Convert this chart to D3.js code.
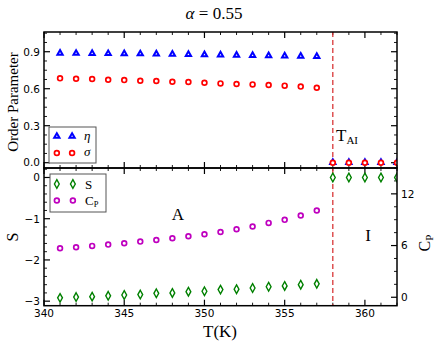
<!DOCTYPE html>
<html>
<head>
<meta charset="utf-8">
<script src="https://cdn.jsdelivr.net/npm/d3@7"></script>
<style>
  body { margin: 0; background: #fff; }
  text { fill: #000; }
</style>
</head>
<body>
<div id="chart"></div>
<script>
// temperatures
var tLow = [341, 342, 343, 344, 345, 346, 347, 348, 349, 350, 351, 352, 353, 354, 355, 356, 357];
var tHigh = [358, 359, 360, 361, 362];

// order parameters
var eta = [0.886, 0.885, 0.884, 0.883, 0.882, 0.881, 0.880, 0.878, 0.876, 0.874, 0.872, 0.870, 0.868, 0.866, 0.864, 0.862, 0.860];
var sigma = [0.684, 0.681, 0.679, 0.673, 0.670, 0.665, 0.662, 0.657, 0.654, 0.649, 0.643, 0.638, 0.635, 0.630, 0.625, 0.617, 0.608];
var etaHigh = [0, 0, 0, 0, 0];
var sigmaHigh = [0, 0, 0, 0, 0];

// entropy and heat capacity
var S = [-2.92, -2.90, -2.89, -2.87, -2.85, -2.84, -2.81, -2.80, -2.77, -2.76, -2.72, -2.71, -2.68, -2.65, -2.63, -2.60, -2.58];
var SHigh = [0, 0, 0, 0, 0];
var Cp = [5.69, 5.80, 5.96, 6.11, 6.27, 6.46, 6.65, 6.85, 7.08, 7.31, 7.58, 7.90, 8.21, 8.63, 8.98, 9.48, 10.06];

var tTransition = 358;

var xTicks = [340, 345, 350, 355, 360];
var opTicks = [0.0, 0.3, 0.6, 0.9];
var sTicks = [0, -1, -2, -3];
var cpTicks = [0, 6, 12];

var W = 439, H = 345;
var left = 44, right = 397, top1 = 32, mid = 168, bot = 305.7;

var svg = d3.select("#chart").append("svg")
	.attr("width", W)
	.attr("height", H)
	.style("font-family", "'DejaVu Sans', sans-serif");

var x = d3.scaleLinear().domain([340, 362]).range([left, right]);
var yOP = d3.scaleLinear().domain([-0.043, 1.06]).range([mid, top1]);
var yS = d3.scaleLinear().domain([-3.11, 0.23]).range([bot, mid]);
var yCp = d3.scaleLinear().domain([-0.98, 15.0]).range([bot, mid]);

var defs = svg.append("defs");
defs.append("clipPath").attr("id", "clipTop").append("rect")
	.attr("x", left).attr("y", top1).attr("width", right - left).attr("height", mid - top1);
defs.append("clipPath").attr("id", "clipBot").append("rect")
	.attr("x", left).attr("y", mid).attr("width", right - left).attr("height", bot - mid);

function range(a, b, step) {
	var out = [];
	for (var v = a; v <= b + 1e-9; v += step) out.push(+v.toFixed(4));
	return out;
}

// ticks: inside pointing
function ticks(g, scale, values, orient, pos, len, labels, fmt) {
	values.forEach(function (v) {
		var p = scale(v);
		var l;
		if (orient == "left") l = [pos, p, pos + len, p];
		if (orient == "right") l = [pos, p, pos - len, p];
		if (orient == "bottom") l = [p, pos, p, pos - len];
		if (orient == "top") l = [p, pos, p, pos + len];
		g.append("line").attr("x1", l[0]).attr("y1", l[1]).attr("x2", l[2]).attr("y2", l[3])
			.attr("stroke", "#000").attr("stroke-width", len > 4 ? 1.2 : 0.9);
		if (labels) {
			var t = g.append("text").attr("font-size", 10.5).text(fmt(v));
			if (orient == "left") t.attr("x", pos - 4).attr("y", p + 3.8).attr("text-anchor", "end");
			if (orient == "right") t.attr("x", pos + 4).attr("y", p + 3.8).attr("text-anchor", "start");
			if (orient == "bottom") t.attr("x", p).attr("y", pos + 11.5).attr("text-anchor", "middle");
		}
	});
}

var axes = svg.append("g");
var minorX = range(340, 362, 1).filter(function (v) { return v % 5 != 0; });
var minusFmt = function (v) { return v < 0 ? "\u2212" + Math.abs(v) : String(v); };

// top panel
ticks(axes, x, xTicks, "top", top1, 6, false);
ticks(axes, x, minorX, "top", top1, 3, false);
ticks(axes, x, xTicks, "bottom", mid, 6, false);
ticks(axes, x, minorX, "bottom", mid, 3, false);
var opMinor = range(0, 1.05, 0.075).filter(function (v) { return Math.abs(v / 0.3 - Math.round(v / 0.3)) > 1e-6; });
ticks(axes, yOP, opTicks, "left", left, 6, true, function (v) { return v.toFixed(1); });
ticks(axes, yOP, opMinor, "left", left, 3, false);
ticks(axes, yOP, opTicks, "right", right, 6, false);
ticks(axes, yOP, opMinor, "right", right, 3, false);

// bottom panel
ticks(axes, x, xTicks, "top", mid, 6, false);
ticks(axes, x, minorX, "top", mid, 3, false);
ticks(axes, x, xTicks, "bottom", bot, 6, true, String);
ticks(axes, x, minorX, "bottom", bot, 3, false);
var sMinor = range(-3.0, 0.2, 0.2).filter(function (v) { return Math.abs(v - Math.round(v)) > 1e-6; });
ticks(axes, yS, sTicks, "left", left, 6, true, minusFmt);
ticks(axes, yS, sMinor, "left", left, 3, false);
var cpMinor = range(-1.5, 15, 1.5).filter(function (v) { return v % 6 != 0; });
ticks(axes, yCp, cpTicks, "right", right, 6, true, String);
ticks(axes, yCp, cpMinor.filter(function (v) { return v > -0.98; }), "right", right, 3, false);

// dashed transition line
svg.append("line")
	.attr("x1", x(tTransition)).attr("x2", x(tTransition))
	.attr("y1", top1).attr("y2", bot)
	.attr("stroke", "#d62728").attr("stroke-width", 1.2)
	.attr("stroke-dasharray", "5,3");

// markers
var triangle = d3.symbol().type(d3.symbolTriangle).size(12);
var diamond = "M0,-4.3L2.4,0L0,4.3L-2.4,0Z";

function triangles(g, xs, ys, scale) {
	g.selectAll(null).data(xs).enter().append("path")
		.attr("d", triangle)
		.attr("transform", function (d, i) { return "translate(" + x(d) + "," + (scale(ys[i]) - 0.3) + ")"; })
		.attr("fill", "#fff").attr("stroke", "#0000ff").attr("stroke-width", 2);
}
function circles(g, xs, ys, scale, color) {
	g.selectAll(null).data(xs).enter().append("circle")
		.attr("cx", function (d) { return x(d); })
		.attr("cy", function (d, i) { return scale(ys[i]); })
		.attr("r", 2.4)
		.attr("fill", "#fff").attr("stroke", color).attr("stroke-width", 1.7);
}
function diamonds(g, xs, ys, scale) {
	g.selectAll(null).data(xs).enter().append("path")
		.attr("d", diamond)
		.attr("transform", function (d, i) { return "translate(" + x(d) + "," + scale(ys[i]) + ")"; })
		.attr("fill", "#fff").attr("stroke", "#008000").attr("stroke-width", 1.4);
}

var gTop = svg.append("g").attr("clip-path", "url(#clipTop)");
triangles(gTop, tLow, eta, yOP);
circles(gTop, tLow, sigma, yOP, "#ff0000");
triangles(gTop, tHigh, etaHigh, yOP);
circles(gTop, tHigh, sigmaHigh, yOP, "#ff0000");

var gBot = svg.append("g").attr("clip-path", "url(#clipBot)");
diamonds(gBot, tLow, S, yS);
diamonds(gBot, tHigh, SHigh, yS);
circles(gBot, tLow, Cp, yCp, "#bf00bf");

// frames
svg.append("rect").attr("x", left).attr("y", top1).attr("width", right - left).attr("height", mid - top1)
	.attr("fill", "none").attr("stroke", "#000").attr("stroke-width", 1.5);
svg.append("rect").attr("x", left).attr("y", mid).attr("width", right - left).attr("height", bot - mid)
	.attr("fill", "none").attr("stroke", "#000").attr("stroke-width", 1.5);

// legends
var serif = "'Liberation Serif', 'DejaVu Serif', serif";
var lg1 = svg.append("g");
lg1.append("rect").attr("x", 49).attr("y", 127).attr("width", 47).attr("height", 36)
	.attr("fill", "#fff").attr("stroke", "#555").attr("stroke-width", 1);
triangles(lg1, [340.8, 341.75], [0, 0], function () { return 136.5; });
circles(lg1, [340.8, 341.75], [0, 0], function () { return 153; }, "#ff0000");
lg1.append("text").attr("x", 84).attr("y", 140).attr("font-family", serif).attr("font-style", "italic").attr("font-size", 13).text("\u03b7");
lg1.append("text").attr("x", 84).attr("y", 156).attr("font-family", serif).attr("font-style", "italic").attr("font-size", 13).text("\u03c3");

var lg2 = svg.append("g");
lg2.append("rect").attr("x", 50).attr("y", 174).attr("width", 56).attr("height", 38)
	.attr("fill", "#fff").attr("stroke", "#555").attr("stroke-width", 1);
diamonds(lg2, [340.8, 341.8], [0, 0], function () { return 184; });
circles(lg2, [340.8, 341.8], [0, 0], function () { return 200.5; }, "#bf00bf");
lg2.append("text").attr("x", 85).attr("y", 188.5).attr("font-family", serif).attr("font-size", 13).text("S");
var cpl = lg2.append("text").attr("x", 85).attr("y", 205).attr("font-family", serif).attr("font-size", 13);
cpl.append("tspan").text("C");
cpl.append("tspan").attr("font-size", 8.5).attr("dy", 2).text("P");

// labels
svg.append("text").attr("x", 214).attr("y", 19).attr("text-anchor", "middle")
	.attr("font-family", serif).attr("font-size", 17)
	.html("<tspan font-style='italic'>\u03b1</tspan> = 0.55");

svg.append("text").attr("transform", "translate(17.5,102) rotate(-90)").attr("text-anchor", "middle")
	.attr("font-family", serif).attr("font-size", 15).text("Order Parameter");
svg.append("text").attr("transform", "translate(17.5,237) rotate(-90)").attr("text-anchor", "middle")
	.attr("font-family", serif).attr("font-size", 16).text("S");
var cpy = svg.append("text").attr("transform", "translate(430,243) rotate(-90)").attr("text-anchor", "middle")
	.attr("font-family", serif).attr("font-size", 16);
cpy.append("tspan").text("C");
cpy.append("tspan").attr("font-size", 11).attr("dy", 3).text("P");
svg.append("text").attr("x", 220).attr("y", 337).attr("text-anchor", "middle")
	.attr("font-family", serif).attr("font-size", 17).text("T(K)");

svg.append("text").attr("x", 178).attr("y", 220).attr("text-anchor", "middle")
	.attr("font-family", serif).attr("font-size", 17).text("A");
svg.append("text").attr("x", 368).attr("y", 241).attr("text-anchor", "middle")
	.attr("font-family", serif).attr("font-size", 17).text("I");
var tai = svg.append("text").attr("x", 336).attr("y", 141).attr("font-family", serif).attr("font-size", 17);
tai.append("tspan").text("T");
tai.append("tspan").attr("font-size", 11).attr("dy", 3).text("AI");
</script>
</body>
</html>
